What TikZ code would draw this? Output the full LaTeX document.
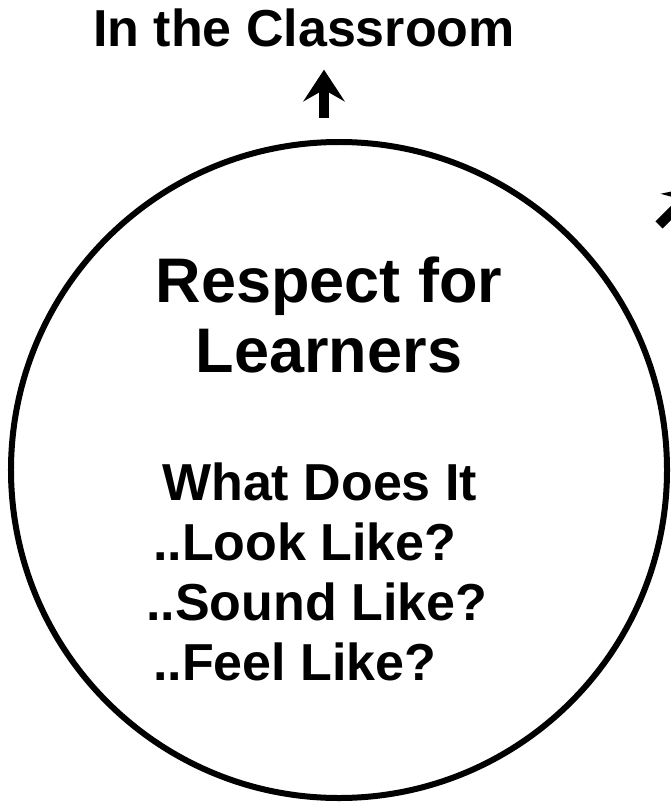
\documentclass[tikz,border=0pt]{standalone}
\usepackage{fontspec}
\setmainfont{Liberation Sans}
\usepackage{tikz}
\usetikzlibrary{calc,arrows.meta,positioning}
\tikzstyle{page}=[
  x=1bp,y=-1bp
]
\tikzstyle{ring}=[
  draw,circle,line width=6bp,inner sep=0pt,minimum size=656bp
]
\tikzstyle{heading}=[
  font=\fontsize{52bp}{60bp}\selectfont\bfseries,inner sep=0pt
]
\tikzstyle{bigtext}=[
  font=\fontsize{63bp}{70bp}\selectfont\bfseries,inner sep=0pt
]
\tikzstyle{asktext}=[
  font=\fontsize{52bp}{60bp}\selectfont\bfseries,inner sep=0pt,anchor=base west
]
\tikzstyle{uparrow}=[
  line width=10bp,-{Stealth[length=32bp,width=42bp,inset=12bp,line width=0pt]}
]

\begin{document}
\begin{tikzpicture}[page]
    \useasboundingbox (0,0) rectangle (671,804);
    \clip (0,0) rectangle (671,804);
      \node (title) at (304,47) [heading,anchor=base] {In the Classroom};
      \node (circ) at (339,470) [ring] {};
      \node (resp) at (329,302) [bigtext,anchor=base] {Respect for};
      \node (learn) at ($(resp.base)+(0,70)$) [bigtext,anchor=base] {Learners};
      \node (ask1) at (162,500) [asktext] {What Does It};
      \node (ask2) at (153,560) [asktext] {..Look Like?};
      \node (ask3) at (146,620) [asktext] {..Sound Like?};
      \node (ask4) at (153,680) [asktext] {..Feel Like?};
      \coordinate (upx) at (324,0);
      \coordinate (sidefrom) at (659,225);
      \coordinate (sideto) at (698,186);
      \draw [uparrow,shorten <=21bp,shorten >=22bp] (upx |- circ.north) -- (upx |- title.south);
      \draw [uparrow] (sidefrom) -- (sideto);
    \end{tikzpicture}
\end{document}
